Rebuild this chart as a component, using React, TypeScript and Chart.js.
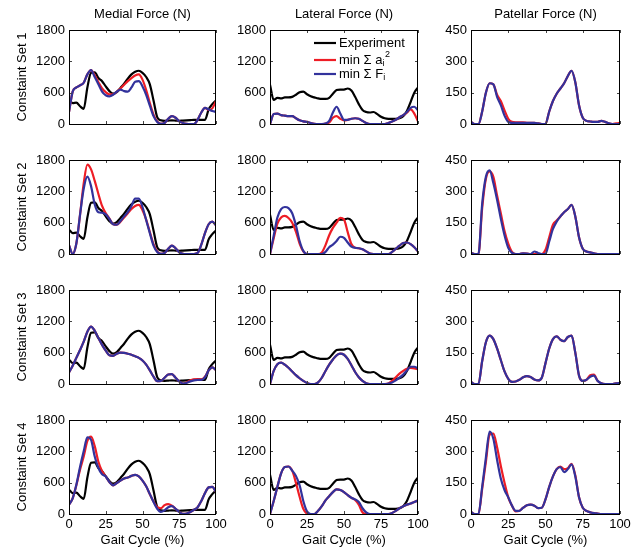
import React, { useEffect, useRef } from "react";
import { Chart, registerables } from "chart.js";

Chart.register(...registerables);

// ---------- data ----------
const GAIT = [0, 2.5, 5, 7.5, 10, 12.5, 15, 17.5, 20, 22.5, 25, 27.5, 30, 32.5, 35, 37.5, 40, 42.5, 45, 47.5, 50, 52.5, 55, 57.5, 60, 62.5, 65, 67.5, 70, 72.5, 75, 77.5, 80, 82.5, 85, 87.5, 90, 92.5, 95, 97.5, 100];
const X_TICKS = [0, 25, 50, 75, 100];
const FORCE_TICKS = [0, 600, 1200, 1800];
const PATELLAR_TICKS = [0, 150, 300, 450];
const COLUMN_TITLES = ["Medial Force (N)", "Lateral Force (N)", "Patellar Force (N)"];
const ROW_TITLES = ["Constaint Set 1", "Constaint Set 2", "Constaint Set 3", "Constaint Set 4"];
const X_TITLE = "Gait Cycle (%)";
const SERIES_LABELS = ["Experiment", "min \u03A3 a_i^2", "min \u03A3 F_i"];

const EXP_MEDIAL = [470, 400, 410, 340, 290, 700, 980, 990, 880, 820, 720, 630, 580, 610, 690, 770, 870, 950, 1000, 1020, 980, 900, 760, 450, 130, 70, 60, 65, 70, 65, 60, 65, 70, 75, 80, 80, 80, 80, 280, 380, 450];
const EXP_LATERAL = [750, 460, 500, 490, 510, 510, 520, 560, 610, 620, 570, 530, 510, 490, 480, 480, 500, 580, 650, 660, 660, 680, 640, 520, 380, 270, 230, 220, 230, 190, 140, 110, 100, 100, 100, 110, 150, 250, 420, 600, 700];

const S1_MED_A = [230, 620, 700, 740, 790, 950, 1030, 930, 800, 680, 610, 570, 570, 620, 680, 750, 820, 880, 930, 950, 850, 650, 400, 180, 50, 5, 20, 100, 150, 120, 50, 20, 5, 0, 0, 80, 220, 310, 270, 300, 440];
const S1_MED_F = [230, 620, 700, 740, 790, 950, 1030, 900, 760, 620, 550, 530, 560, 620, 660, 630, 620, 700, 810, 820, 720, 560, 350, 150, 40, 5, 20, 100, 150, 120, 50, 20, 5, 0, 0, 80, 220, 310, 280, 250, 230];
const S1_LAT_A = [0, 190, 200, 170, 160, 150, 150, 110, 70, 50, 40, 20, 5, 0, 0, 10, 30, 120, 150, 100, 70, 80, 100, 110, 100, 60, 20, 0, 0, 0, 0, 0, 20, 50, 80, 130, 170, 220, 280, 200, 50];
const S1_LAT_F = [0, 190, 200, 170, 160, 150, 150, 110, 70, 50, 40, 20, 5, 0, 0, 10, 60, 220, 330, 200, 80, 80, 100, 110, 100, 60, 20, 0, 0, 0, 0, 0, 20, 50, 80, 130, 170, 230, 310, 330, 260];
const S1_PAT_A = [10, 0, 0, 60, 150, 195, 190, 140, 110, 65, 25, 10, 8, 8, 8, 6, 5, 5, 3, 0, 0, 60, 110, 145, 170, 195, 230, 255, 200, 90, 30, 15, 12, 10, 10, 15, 10, 3, 0, 3, 5];
const S1_PAT_F = [10, 0, 0, 60, 150, 195, 190, 130, 90, 40, 10, 5, 5, 5, 5, 5, 5, 5, 3, 0, 0, 60, 110, 145, 170, 195, 230, 255, 200, 90, 30, 15, 12, 10, 10, 15, 10, 3, 0, 0, 0];

const S2_MED_A = [170, 0, 200, 750, 1350, 1710, 1620, 1400, 1150, 920, 780, 680, 570, 560, 620, 700, 780, 860, 920, 940, 840, 660, 420, 190, 50, 5, 20, 100, 160, 110, 30, 5, 0, 0, 0, 20, 180, 400, 570, 620, 550];
const S2_MED_F = [170, 0, 200, 750, 1250, 1480, 1300, 950, 800, 790, 760, 670, 570, 560, 630, 720, 800, 920, 1060, 1060, 900, 650, 400, 160, 40, 5, 20, 100, 160, 110, 30, 5, 0, 0, 0, 20, 180, 400, 570, 620, 550];
const S2_LAT_A = [0, 300, 580, 700, 730, 690, 600, 430, 200, 50, 0, 0, 0, 0, 30, 170, 360, 500, 600, 690, 660, 420, 190, 120, 110, 90, 50, 10, 0, 0, 0, 0, 0, 40, 100, 160, 210, 220, 190, 130, 50];
const S2_LAT_F = [0, 350, 700, 860, 900, 880, 780, 550, 250, 60, 0, 0, 0, 0, 0, 40, 130, 180, 250, 330, 310, 220, 140, 120, 110, 90, 50, 10, 0, 0, 0, 0, 0, 40, 100, 160, 210, 220, 190, 130, 50];
const S2_PAT_A = [5, 0, 0, 220, 360, 395, 370, 280, 195, 110, 50, 10, 0, 0, 3, 2, 0, 0, 0, 0, 20, 80, 140, 160, 180, 200, 215, 235, 180, 80, 25, 12, 8, 3, 0, 0, 0, 0, 0, 0, 0];
const S2_PAT_F = [5, 0, 0, 240, 370, 400, 340, 260, 170, 90, 30, 5, 0, 0, 3, 2, 0, 12, 5, 0, 0, 60, 120, 155, 180, 200, 215, 235, 180, 80, 25, 12, 8, 3, 0, 0, 0, 0, 0, 0, 0];

const S3_MED_A = [220, 350, 500, 650, 810, 1000, 1100, 1020, 880, 750, 640, 550, 540, 580, 600, 595, 580, 560, 530, 500, 450, 370, 260, 140, 55, 60, 120, 180, 190, 120, 50, 10, 30, 70, 90, 95, 90, 140, 260, 320, 260];
const S3_MED_F = [220, 350, 500, 650, 810, 1000, 1100, 1020, 880, 750, 640, 550, 540, 580, 600, 595, 580, 560, 530, 500, 450, 370, 260, 140, 55, 60, 120, 180, 190, 120, 50, 10, 20, 50, 70, 80, 80, 130, 260, 320, 260];
const S3_LAT_A = [0, 250, 380, 410, 370, 310, 240, 170, 110, 60, 20, 0, 0, 30, 120, 250, 370, 470, 550, 580, 560, 480, 360, 230, 130, 60, 15, 0, 0, 0, 0, 0, 10, 60, 130, 200, 250, 290, 310, 300, 280];
const S3_LAT_F = [0, 250, 380, 410, 370, 310, 240, 170, 110, 60, 20, 0, 0, 30, 120, 250, 370, 470, 550, 580, 560, 480, 360, 230, 130, 60, 15, 0, 0, 0, 0, 0, 10, 30, 70, 120, 180, 260, 330, 330, 300];
const S3_PAT_A = [10, 0, 0, 110, 200, 232, 215, 170, 115, 60, 25, 10, 12, 20, 32, 38, 33, 22, 17, 30, 100, 170, 215, 228, 212, 205, 225, 232, 150, 40, 15, 20, 42, 45, 15, 3, 0, 0, 0, 3, 5];
const S3_PAT_F = [10, 0, 0, 110, 200, 232, 215, 170, 115, 60, 25, 10, 12, 20, 32, 38, 33, 22, 17, 30, 100, 170, 215, 228, 212, 205, 225, 232, 150, 40, 15, 20, 35, 40, 15, 3, 0, 0, 0, 3, 5];

const S4_MED_A = [180, 300, 550, 850, 1100, 1400, 1480, 1300, 1000, 820, 720, 610, 550, 590, 640, 680, 700, 730, 750, 720, 640, 530, 380, 240, 130, 110, 170, 190, 160, 100, 40, 5, 10, 40, 80, 130, 250, 400, 510, 520, 420];
const S4_MED_F = [180, 300, 560, 900, 1200, 1470, 1420, 1100, 880, 760, 720, 610, 550, 590, 640, 680, 700, 730, 750, 720, 640, 530, 380, 230, 100, 40, 70, 130, 150, 100, 40, 5, 10, 40, 80, 130, 250, 400, 510, 520, 420];
const S4_LAT_A = [0, 250, 520, 780, 900, 910, 830, 600, 330, 100, 10, 0, 0, 60, 150, 260, 340, 420, 470, 460, 420, 360, 310, 270, 180, 30, 0, 0, 0, 0, 0, 0, 0, 20, 60, 110, 150, 180, 200, 230, 260];
const S4_LAT_F = [0, 250, 520, 780, 900, 910, 830, 730, 550, 250, 50, 0, 0, 60, 150, 260, 340, 420, 470, 460, 420, 360, 310, 280, 230, 110, 30, 0, 0, 0, 0, 0, 0, 20, 60, 110, 150, 180, 200, 230, 260];
const S4_PAT_A = [10, 0, 0, 120, 250, 380, 385, 320, 230, 150, 80, 40, 12, 15, 30, 42, 45, 40, 28, 30, 70, 130, 180, 215, 227, 215, 220, 240, 185, 80, 30, 15, 8, 4, 2, 0, 0, 0, 0, 0, 0];
const S4_PAT_F = [10, 0, 0, 130, 270, 395, 360, 260, 170, 115, 80, 40, 15, 15, 30, 42, 45, 40, 28, 30, 70, 130, 180, 215, 225, 200, 215, 238, 180, 80, 30, 15, 8, 4, 2, 0, 0, 0, 0, 0, 0];

// rows = constraint sets, columns = medial / lateral / patellar
const PANELS: (number[] | null)[][][] = [
  [[EXP_MEDIAL, S1_MED_A, S1_MED_F], [EXP_LATERAL, S1_LAT_A, S1_LAT_F], [null, S1_PAT_A, S1_PAT_F]],
  [[EXP_MEDIAL, S2_MED_A, S2_MED_F], [EXP_LATERAL, S2_LAT_A, S2_LAT_F], [null, S2_PAT_A, S2_PAT_F]],
  [[EXP_MEDIAL, S3_MED_A, S3_MED_F], [EXP_LATERAL, S3_LAT_A, S3_LAT_F], [null, S3_PAT_A, S3_PAT_F]],
  [[EXP_MEDIAL, S4_MED_A, S4_MED_F], [EXP_LATERAL, S4_LAT_A, S4_LAT_F], [null, S4_PAT_A, S4_PAT_F]],
];
const COLUMN_TICKS = [FORCE_TICKS, FORCE_TICKS, PATELLAR_TICKS];

// ---------- style / layout ----------
const FONT = "'Liberation Sans', Arial, Helvetica, sans-serif";
const FONT_SIZE = 13;
const COLORS = ["#000000", "#ee1d25", "#32329c"];
const LINE_W = 2.2;
const PLOT_X = [[69, 216], [270, 418], [471, 620]];
const PLOT_Y = [[30, 124], [160, 254], [290, 384], [420, 514]];
const AXIS_W = [69, 40, 40];
const PAD_R = 15;
const PAD_V = 14;
const PAGE_H = 548;

Chart.defaults.font.family = FONT;
Chart.defaults.font.size = FONT_SIZE;
Chart.defaults.color = "#000";

function drawRich(ctx: CanvasRenderingContext2D, text: string, x: number, y: number) {
  // supports _c (subscript) and ^c (superscript) single characters
  const segs: { t: string; k: number }[] = [];
  let buf = "";
  for (let i = 0; i < text.length; i++) {
    const ch = text[i];
    if ((ch === "_" || ch === "^") && i + 1 < text.length) {
      if (buf) segs.push({ t: buf, k: 0 });
      buf = "";
      segs.push({ t: text[i + 1], k: ch === "_" ? 1 : 2 });
      i++;
    } else buf += ch;
  }
  if (buf) segs.push({ t: buf, k: 0 });
  let cx = x;
  ctx.textAlign = "left";
  ctx.textBaseline = "middle";
  for (const s of segs) {
    const fs = s.k === 0 ? FONT_SIZE : 9;
    const dy = s.k === 1 ? 4 : s.k === 2 ? -5 : 0;
    ctx.font = `${fs}px ${FONT}`;
    ctx.fillText(s.t, cx, y + dy);
    cx += ctx.measureText(s.t).width + (s.k === 1 ? 0.5 : 0);
  }
}

const matlabAxes = {
  id: "matlabAxes",
  afterDraw(chart: any, _args: any, opts: any) {
    const { ctx, chartArea: a, scales } = chart;
    const xs = scales.x;
    const ys = scales.y;
    ctx.save();
    const L = Math.round(a.left);
    const R = Math.round(a.right);
    const T = Math.round(a.top);
    const B = Math.round(a.bottom);
    // ticks (inward, all four sides)
    ctx.strokeStyle = "#444";
    ctx.lineWidth = 1;
    const tl = 3;
    ctx.beginPath();
    for (const v of X_TICKS) {
      const px = Math.round(xs.getPixelForValue(v)) + 0.5;
      ctx.moveTo(px, B);
      ctx.lineTo(px, B - tl);
      ctx.moveTo(px, T);
      ctx.lineTo(px, T + tl);
    }
    for (const v of opts.yTicks as number[]) {
      const py = Math.round(ys.getPixelForValue(v)) + 0.5;
      ctx.moveTo(L, py);
      ctx.lineTo(L + tl, py);
      ctx.moveTo(R, py);
      ctx.lineTo(R - tl, py);
    }
    ctx.stroke();
    // box
    ctx.strokeStyle = "#000";
    ctx.lineWidth = 1;
    ctx.strokeRect(L + 0.5, T + 0.5, R - L - 1, B - T);
    // legend
    if (opts.legend) {
      ctx.fillStyle = "#000";
      const rows = [13, 30, 44];
      SERIES_LABELS.forEach((label, i) => {
        const y = a.top + rows[i];
        ctx.strokeStyle = COLORS[i];
        ctx.lineWidth = LINE_W;
        ctx.beginPath();
        ctx.moveTo(a.left + 44, y);
        ctx.lineTo(a.left + 66, y);
        ctx.stroke();
        drawRich(ctx, label, a.left + 69, y);
      });
    }
    ctx.restore();
  },
};

function Panel({ row, col }: { row: number; col: number }) {
  const ref = useRef<HTMLCanvasElement>(null);
  const left = PLOT_X[col][0] - AXIS_W[col];
  const width = AXIS_W[col] + (PLOT_X[col][1] - PLOT_X[col][0]) + PAD_R;
  const isTop = row === 0;
  const isBottom = row === 3;
  const top = isTop ? 0 : PLOT_Y[row][0] - PAD_V;
  const bottom = isBottom ? PAGE_H : PLOT_Y[row][1] + PAD_V;
  const height = bottom - top;

  useEffect(() => {
    const yTicks = COLUMN_TICKS[col];
    const series = PANELS[row][col];
    const datasets: any[] = [];
    series.forEach((vals, i) => {
      if (!vals) return;
      datasets.push({
        label: SERIES_LABELS[i],
        data: vals.map((v, k) => ({ x: GAIT[k], y: v })),
        borderColor: COLORS[i],
        borderWidth: LINE_W,
        pointRadius: 0,
        fill: false,
        cubicInterpolationMode: "monotone",
        order: 3 - i,
      });
    });
    const chart = new Chart(ref.current as HTMLCanvasElement, {
      type: "line",
      data: { datasets },
      plugins: [matlabAxes as any],
      options: {
        responsive: false,
        animation: false,
        events: [],
        layout: {
          padding: { left: 0, right: PAD_R, top: isTop ? 0 : PAD_V, bottom: isBottom ? 0 : PAD_V },
        },
        plugins: {
          legend: { display: false },
          tooltip: { enabled: false },
          title: {
            display: isTop,
            text: COLUMN_TITLES[col],
            fullSize: false,
            font: { size: FONT_SIZE, weight: "normal", family: FONT },
            color: "#000",
            padding: { top: 6.5, bottom: PLOT_Y[0][0] - 6.5 - FONT_SIZE * 1.2 },
          },
          matlabAxes: { yTicks, legend: row === 0 && col === 1 },
        } as any,
        scales: {
          x: {
            type: "linear",
            min: 0,
            max: 100,
            display: isBottom,
            grid: { display: false, drawTicks: false },
            border: { display: false },
            afterBuildTicks: (s: any) => {
              s.ticks = X_TICKS.map((v) => ({ value: v }));
            },
            afterFit: (s: any) => {
              s.height = isBottom ? PAGE_H - PLOT_Y[3][1] : 0;
            },
            ticks: { padding: isBottom ? 3 : 0, maxRotation: 0, autoSkip: false, color: "#000", callback: (v: any) => String(v) },
            title: {
              display: isBottom,
              text: X_TITLE,
              color: "#000",
              padding: { top: 0, bottom: 0 },
              font: { size: FONT_SIZE, family: FONT },
            },
          },
          y: {
            type: "linear",
            min: 0,
            max: yTicks[yTicks.length - 1],
            grid: { display: false, drawTicks: false },
            border: { display: false },
            afterBuildTicks: (s: any) => {
              s.ticks = yTicks.map((v) => ({ value: v }));
            },
            afterFit: (s: any) => {
              s.width = AXIS_W[col];
            },
            ticks: { padding: 4, autoSkip: false, color: "#000", callback: (v: any) => String(v) },
            title: {
              display: col === 0,
              text: ROW_TITLES[row],
              color: "#000",
              padding: { top: 15, bottom: 0 },
              font: { size: FONT_SIZE, family: FONT },
            },
          },
        },
      } as any,
    });
    return () => chart.destroy();
  }, [row, col]);

  return (
    <canvas
      ref={ref}
      width={width}
      height={height}
      style={{ position: "absolute", left, top, width, height, display: "block" }}
    />
  );
}

export default function App() {
  const cells: React.ReactElement[] = [];
  for (let r = 0; r < 4; r++) {
    for (let c = 0; c < 3; c++) {
      cells.push(<Panel key={`${r}-${c}`} row={r} col={c} />);
    }
  }
  return (
    <div style={{ position: "absolute", left: 0, top: 0, width: 640, height: PAGE_H, background: "#fff", overflow: "hidden" }}>
      {cells}
    </div>
  );
}
